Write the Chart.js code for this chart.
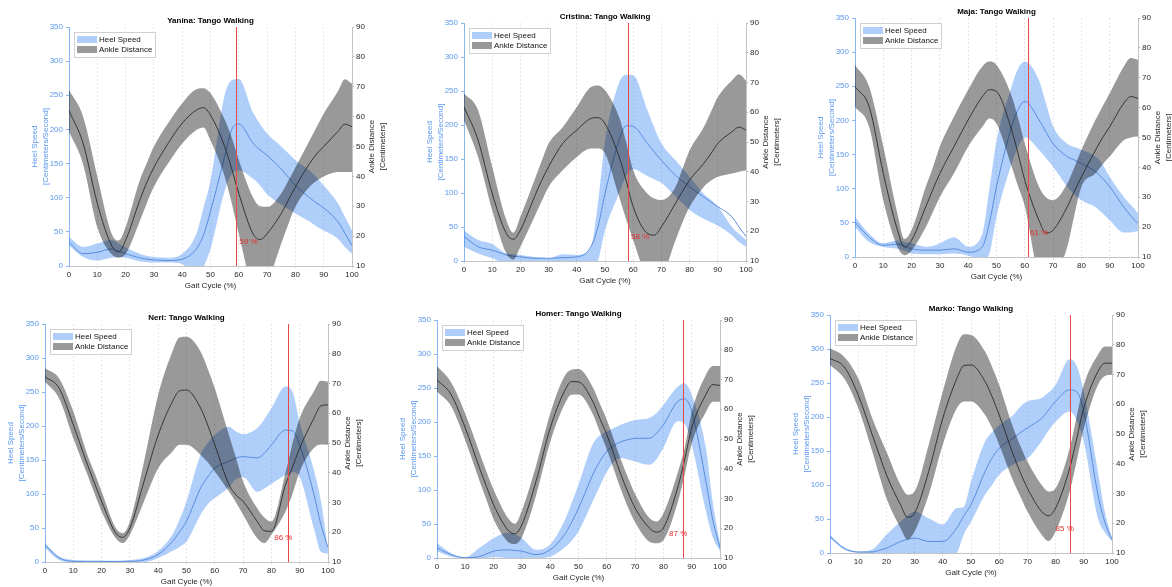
<!DOCTYPE html>
<html lang="en">
<head>
    <meta charset="UTF-8">
    <title>Tango Walking: Heel Speed and Ankle Distance</title>
    <style>
        body {
            margin: 0;
            width: 1172px;
            height: 587px;
            overflow: hidden;
            position: relative;
            background: #fff;
        }
        .panel {
            position: absolute;
        }
    </style>
    <script src="https://cdn.jsdelivr.net/npm/chart.js@4"></script>
</head>
<body>
    <div class="panel" id="p0"><canvas id="c0"></canvas></div>
    <div class="panel" id="p1"><canvas id="c1"></canvas></div>
    <div class="panel" id="p2"><canvas id="c2"></canvas></div>
    <div class="panel" id="p3"><canvas id="c3"></canvas></div>
    <div class="panel" id="p4"><canvas id="c4"></canvas></div>
    <div class="panel" id="p5"><canvas id="c5"></canvas></div>

    <script>
        // gait cycle samples (%)
        const gait = [0, 5, 10, 15, 17.5, 20, 25, 27.5, 30, 35, 40, 45, 47.5, 50, 55, 57.5, 60, 65, 67.5, 70, 75, 77.5, 80, 85, 87.5, 90, 95, 97.5, 100];

        const dancers = ['Yanina', 'Cristina', 'Maja', 'Neri', 'Homer', 'Marko'];
        const events = [59, 58, 61, 86, 87, 85];
        const eventLabelX = [60.2, 59.2, 61.8, 81, 82, 80];

        // Heel speed (cm/s): upper band, mean, lower band
        const yaninaHeelHi = [42, 28, 33, 38, 33, 27, 18, 15, 13, 12, 18, 47, 85, 125, 250, 272, 274, 225, 208, 194, 175, 165, 155, 140, 130, 118, 92, 72, 52];
        const yaninaHeelMean = [35, 18, 20, 25, 22, 18, 12, 10, 9, 8, 10, 25, 45, 80, 160, 200, 208, 180, 170, 162, 142, 130, 118, 100, 92, 85, 65, 48, 30];
        const yaninaHeelLo = [30, 13, 8, 12, 13, 12, 7, 6, 5, 5, 3, -25, -2, 25, 110, 135, 140, 128, 118, 105, 90, 83, 77, 65, 58, 52, 40, 28, 18];

        const cristinaHeelHi = [45, 31, 25, 11, 10, 9, 6, 5, 4, 10, 9, 20, 85, 175, 262, 274, 273, 222, 196, 173, 148, 136, 124, 99, 90, 80, 50, 40, 31];
        const cristinaHeelMean = [36, 21, 16, 9, 7, 6, 4, 4, 4, 5, 6, 21, 50, 99, 178, 199, 198, 173, 160, 148, 126, 117, 109, 94, 87, 80, 65, 50, 36];
        const cristinaHeelLo = [21, 11, 4, -3, -2, 0, 0, 0, 0, 0, -3, -15, 0, 45, 100, 125, 135, 125, 120, 115, 95, 85, 75, 62, 57, 52, 38, 28, 21];

        const majaHeelHi = [59, 34, 20, 24, 22, 20, 15, 16, 20, 29, 15, 34, 100, 170, 245, 275, 286, 259, 225, 191, 166, 161, 157, 147, 135, 117, 88, 76, 64];
        const majaHeelMean = [51, 29, 17, 19, 16, 12, 10, 10, 10, 12, 7, 15, 50, 103, 186, 215, 228, 201, 183, 166, 147, 142, 137, 125, 115, 103, 73, 60, 49];
        const majaHeelLo = [44, 22, 15, 12, 9, 5, 4, 4, 4, 5, 2, -5, 5, 59, 132, 160, 175, 157, 145, 132, 103, 92, 83, 73, 64, 54, 36, 36, 38];

        const neriHeelHi = [28, 8, 3, 2, 2, 2, 2, 2, 3, 6, 16, 40, 62, 89, 158, 175, 187, 199, 192, 188, 197, 210, 226, 258, 250, 205, 135, 90, 18];
        const neriHeelMean = [25, 6, 1, 1, 1, 1, 0.5, 1, 1, 3, 11, 30, 44, 60, 109, 125, 138, 148, 153, 155, 153, 160, 172, 194, 193, 172, 100, 55, 21];
        const neriHeelLo = [21, 3, 0, 0, 0, 0, 0, 0, 0, 0, 6, 16, 22, 30, 70, 85, 94, 110, 122, 125, 103, 108, 115, 128, 132, 125, 50, 15, 12];

        const homerHeelHi = [22, 7, 1, 15, 22, 29, 37, 35, 29, 12, 20, 54, 80, 108, 167, 180, 186, 196, 200, 203, 206, 213, 225, 252, 257, 240, 162, 80, 22];
        const homerHeelMean = [15, 5, 0.5, 2, 6, 10, 12, 11, 10, 5, 12, 34, 52, 73, 122, 142, 157, 171, 174, 176, 176, 183, 196, 230, 234, 216, 113, 55, 15];
        const homerHeelLo = [10, 2, 0, 0, 0, 1, 0, 0, 0, 0, 2, 15, 25, 39, 83, 105, 127, 147, 145, 142, 137, 145, 162, 201, 197, 167, 69, 30, 10];

        const markoHeelHi = [27, 8, 2, 5, 15, 27, 46, 55, 61, 51, 42, 66, 68, 105, 164, 178, 188, 203, 215, 223, 228, 236, 247, 285, 275, 237, 120, 60, 22];
        const markoHeelMean = [24, 7, 1.5, 1.5, 4, 7, 17, 20, 22, 17, 17, 37, 55, 71, 120, 140, 154, 169, 177, 184, 198, 210, 223, 240, 237, 208, 86, 45, 20];
        const markoHeelLo = [22, 5, 0, -1, -3, -5, -10, -12, -15, -15, -15, 0, 28, 46, 86, 100, 115, 130, 135, 139, 164, 180, 193, 208, 195, 164, 51, 30, 17];

        // Ankle distance (cm): upper band, mean, lower band
        const yaninaAnkHi = [69, 60, 40, 21, 18.5, 23, 38.7, 44.5, 50, 57.8, 64.5, 69.2, 69.5, 67.8, 59, 53, 45.5, 33, 30, 29.8, 34.3, 38.5, 43, 52, 56.5, 61, 68.4, 72.5, 71];
        const yaninaAnkMean = [62, 51, 31, 17, 14.7, 18.6, 32, 38, 43, 51, 57.8, 62.2, 63, 60.5, 50, 42.5, 34.3, 20.8, 18.8, 20.8, 27.6, 32, 36.5, 44.3, 47.5, 50, 55, 57.5, 56.6];
        const yaninaAnkLo = [55, 44, 23, 14, 12.8, 14, 25, 31, 36.5, 44.3, 51, 55.5, 56.4, 52, 40, 31, 20.8, 2, 0, 4, 17.5, 24, 29.8, 36.5, 38.5, 40, 41.5, 41.5, 41.5];

        const cristinaAnkHi = [66.3, 60.7, 41.7, 23.8, 19.5, 24.9, 37.2, 43.5, 49.5, 55, 61.8, 68.5, 69, 67.4, 58.4, 50, 40.5, 32.7, 31, 30.5, 34.9, 41, 47.2, 55, 60, 65.1, 70.7, 72.8, 70.7];
        const cristinaAnkMean = [61.8, 50.6, 32.7, 19.3, 17.3, 20.4, 31.6, 37, 41.7, 49.5, 54, 57.9, 58.2, 56.2, 45, 37, 28.2, 19.3, 18.7, 21.5, 29.4, 33.5, 37.2, 42.8, 46, 49.5, 53.4, 55, 54];
        const cristinaAnkLo = [57.3, 45, 27.1, 12.6, 10.5, 14.8, 24.9, 30, 34.9, 40.5, 45, 47.8, 47.8, 46.1, 31.6, 24, 17, 4, 2, 4, 17, 23, 28.2, 34.9, 37, 38.3, 39.4, 40, 40.5];

        const majaAnkHi = [74.3, 67, 47, 24.5, 16, 19, 33.5, 40, 47, 57, 66, 73.8, 75.4, 74.3, 64.8, 57, 48, 33.5, 30, 29, 34.6, 40, 45.8, 55.9, 60.5, 64.8, 73.8, 76.6, 76];
        const majaAnkMean = [67, 60.3, 38, 19, 13.3, 15.6, 26.8, 32.5, 38, 47, 55.9, 63.7, 66, 65.4, 53.6, 45, 35.7, 22.3, 18, 19, 26.8, 32, 36.8, 45.8, 50, 53.6, 61.5, 63.7, 63.1];
        const majaAnkLo = [60.3, 53.6, 29, 13.4, 10.6, 12.2, 20, 25, 30.1, 38, 47, 53.6, 56.4, 54.7, 41.3, 34, 27, 3, 0, 2, 13.4, 24, 33.5, 38, 41, 43.6, 49.1, 50, 50.3];

        const neriAnkHi = [75.1, 71.7, 60.6, 46, 40, 33.7, 21.4, 19.7, 23.6, 43.8, 66.2, 80.7, 85.5, 85.7, 80.7, 75, 68.4, 52.7, 45, 37.1, 28.1, 25, 23.6, 40, 50, 58.3, 67.3, 70.9, 70.6];
        const neriAnkMean = [72.3, 68.4, 56.1, 42.7, 36.5, 30.4, 19.7, 18.3, 21.4, 37.1, 52.7, 63.9, 67.5, 67.8, 61.7, 56, 49.4, 36, 32.5, 30.4, 23.6, 20.5, 20.3, 36, 42, 48.3, 58.3, 62.5, 62.8];
        const neriAnkLo = [70.6, 65, 51.6, 39.3, 33, 27, 18, 16.4, 19.2, 30.4, 41.5, 47.1, 49.4, 49.4, 46, 43.5, 40.4, 33.7, 30, 25.9, 18, 16.4, 19.2, 27, 33, 40.4, 48.3, 49.5, 49.4];

        const homerAnkHi = [74.5, 69, 58.5, 45.5, 39, 33, 23.5, 21.5, 26, 41, 58.5, 71, 73.3, 73.5, 67.5, 62, 56.5, 43, 37, 31.5, 23.5, 22.3, 25, 38.5, 47, 59, 71.5, 74.5, 74.5];
        const homerAnkMean = [69.9, 64.9, 53.7, 40.3, 34, 27.9, 19.5, 18.1, 21.2, 35.8, 53.7, 66, 69.3, 69.2, 62.7, 57, 51.5, 38, 32, 26.8, 20.1, 18.7, 20.1, 33.5, 43, 53.7, 64.9, 68.3, 68];
        const homerAnkLo = [66, 61, 49.5, 36, 29.5, 23, 15.5, 14.7, 17, 31, 49, 61.5, 64.9, 65, 58.5, 52.5, 46.5, 33, 27, 22, 15.5, 15, 16, 28.5, 38, 48.5, 59, 62.5, 62.5];

        const markoAnkHi = [78.8, 76, 68.7, 55.3, 49.5, 44.1, 32.9, 29.6, 30.7, 46.4, 64.3, 79.9, 83.5, 83.3, 77.7, 72.5, 66.5, 52, 46, 40.8, 32.9, 30.7, 31.8, 45.2, 56, 66.5, 76.6, 79.4, 79.4];
        const markoAnkMean = [75.4, 72.6, 63.1, 49.7, 43, 36.3, 26.2, 22, 23.4, 37.4, 55.3, 68.7, 73, 73.2, 67.6, 62.5, 56.4, 43, 37, 31.8, 24, 22.5, 25.1, 38.5, 48.5, 58.7, 71, 73.8, 73.8];
        const markoAnkLo = [73.2, 68.7, 58.7, 44.1, 36, 28.5, 18.4, 14.5, 17.3, 29.6, 46.4, 58.7, 60.9, 60.9, 56.4, 52, 46.4, 34.1, 29, 24, 16.2, 14, 17.3, 30.7, 41, 51.9, 66.5, 69.5, 69.9];

        const heelSeries = [
            [yaninaHeelHi, yaninaHeelMean, yaninaHeelLo],
            [cristinaHeelHi, cristinaHeelMean, cristinaHeelLo],
            [majaHeelHi, majaHeelMean, majaHeelLo],
            [neriHeelHi, neriHeelMean, neriHeelLo],
            [homerHeelHi, homerHeelMean, homerHeelLo],
            [markoHeelHi, markoHeelMean, markoHeelLo]
        ];
        const ankleSeries = [
            [yaninaAnkHi, yaninaAnkMean, yaninaAnkLo],
            [cristinaAnkHi, cristinaAnkMean, cristinaAnkLo],
            [majaAnkHi, majaAnkMean, majaAnkLo],
            [neriAnkHi, neriAnkMean, neriAnkLo],
            [homerAnkHi, homerAnkMean, homerAnkLo],
            [markoAnkHi, markoAnkMean, markoAnkLo]
        ];

        // plot area of each panel on the page: left, top, right, bottom
        const plotBoxes = [
            [69, 27, 352, 266],
            [464, 23, 746, 261],
            [855, 18, 1138, 257],
            [45, 324, 328, 562],
            [437, 320, 720, 558],
            [830, 315, 1112, 553]
        ];
        const AXIS_LEFT = 70, AXIS_RIGHT = 50, AXIS_BOTTOM = 34, PAD_TOP = 20;

        const FONT = '"Liberation Sans", Arial, sans-serif';
        const BLUE_TEXT = '#5b97ee';
        const BLUE_BAND = 'rgba(45, 125, 240, 0.38)';
        const GRAY_BAND = 'rgba(0, 0, 0, 0.4)';

        Chart.defaults.font.family = FONT;
        Chart.defaults.font.size = 8;

        function points(values) {
            return gait.map((x, i) => ({ x: x, y: values[i] }));
        }

        const decor = {
            id: 'decor',
            afterDatasetsDraw(chart, args, opts) {
                const { ctx, chartArea: a, scales } = chart;
                const px = Math.round(scales.x.getPixelForValue(opts.event)) + 0.5;
                ctx.save();
                ctx.strokeStyle = '#e8474a';
                ctx.lineWidth = 1;
                ctx.beginPath();
                ctx.moveTo(px, a.top);
                ctx.lineTo(px, a.bottom);
                ctx.stroke();
                ctx.fillStyle = '#e53030';
                ctx.font = '8px ' + FONT;
                ctx.textBaseline = 'middle';
                ctx.textAlign = 'left';
                ctx.fillText(opts.event + ' %', scales.x.getPixelForValue(opts.labelX), scales.yHeel.getPixelForValue(35));
                ctx.restore();
            },
            afterDraw(chart, args, opts) {
                const { ctx, chartArea: a } = chart;
                ctx.save();
                // title
                ctx.fillStyle = '#000';
                ctx.font = 'bold 8px ' + FONT;
                ctx.textAlign = 'center';
                ctx.textBaseline = 'middle';
                ctx.fillText(opts.name + ': Tango Walking', (a.left + a.right) / 2, a.top - 6);

                // right axis title, rotated like the left one
                ctx.font = '8px ' + FONT;
                ctx.fillStyle = '#262626';
                ctx.translate(a.right + 20, (a.top + a.bottom) / 2);
                ctx.rotate(-Math.PI / 2);
                ctx.fillText('Ankle Distance', 0, 0);
                ctx.fillText('[Centimeters]', 0, 10.5);
                ctx.restore();

                // legend
                const bands = chart.data.datasets.filter(d => d.label);
                const bx = a.left + 5, by = a.top + 5;
                ctx.save();
                ctx.fillStyle = '#fff';
                ctx.fillRect(bx, by, 81, 25);
                ctx.strokeStyle = '#d0d0d0';
                ctx.lineWidth = 1;
                ctx.strokeRect(bx + 0.5, by + 0.5, 81, 25);
                ctx.font = '8px ' + FONT;
                ctx.textBaseline = 'middle';
                ctx.textAlign = 'left';
                bands.forEach((d, k) => {
                    const cy = by + 7.5 + k * 10;
                    ctx.fillStyle = '#fff';
                    ctx.fillRect(bx + 3, cy - 3.5, 20, 7);
                    ctx.fillStyle = d.backgroundColor;
                    ctx.fillRect(bx + 3, cy - 3.5, 20, 7);
                    ctx.fillStyle = '#111';
                    ctx.fillText(d.label, bx + 25, cy + 0.5);
                });
                ctx.restore();
            }
        };

        function makePanel(i) {
            const [L, T, R, B] = plotBoxes[i];
            const w = R - L + AXIS_LEFT + AXIS_RIGHT;
            const h = B - T + PAD_TOP + AXIS_BOTTOM;
            const div = document.getElementById('p' + i);
            div.style.left = (L - AXIS_LEFT) + 'px';
            div.style.top = (T - PAD_TOP) + 'px';
            div.style.width = w + 'px';
            div.style.height = h + 'px';
            const canvas = document.getElementById('c' + i);
            canvas.width = w;
            canvas.height = h;

            const [hHi, hMean, hLo] = heelSeries[i];
            const [aHi, aMean, aLo] = ankleSeries[i];
            const line = { pointRadius: 0, cubicInterpolationMode: 'monotone' };

            new Chart(canvas.getContext('2d'), {
                type: 'line',
                data: {
                    datasets: [
                        { ...line, label: 'Heel Speed', data: points(hHi), yAxisID: 'yHeel', borderWidth: 0, backgroundColor: BLUE_BAND, fill: '+1', order: 6 },
                        { ...line, data: points(hLo), yAxisID: 'yHeel', borderWidth: 0, fill: false, order: 5 },
                        { ...line, data: points(hMean), yAxisID: 'yHeel', borderColor: '#4f86d9', borderWidth: 0.9, fill: false, order: 4 },
                        { ...line, label: 'Ankle Distance', data: points(aHi), yAxisID: 'yAnkle', borderWidth: 0, backgroundColor: GRAY_BAND, fill: '+1', order: 3 },
                        { ...line, data: points(aLo), yAxisID: 'yAnkle', borderWidth: 0, fill: false, order: 2 },
                        { ...line, data: points(aMean), yAxisID: 'yAnkle', borderColor: '#2a2a2a', borderWidth: 0.9, fill: false, order: 1 }
                    ]
                },
                options: {
                    responsive: false,
                    animation: false,
                    layout: { padding: { top: PAD_TOP, left: 0, right: 0, bottom: 0 } },
                    plugins: {
                        legend: { display: false },
                        tooltip: { enabled: false },
                        decor: { event: events[i], labelX: eventLabelX[i], name: dancers[i] }
                    },
                    scales: {
                        x: {
                            type: 'linear',
                            min: 0,
                            max: 100,
                            afterFit: s => { s.height = AXIS_BOTTOM; },
                            ticks: { stepSize: 10, color: '#262626', padding: 1, maxRotation: 0, autoSkip: false },
                            grid: { color: '#e6e6e6', tickLength: 3 },
                            border: { color: '#c4c4c4', dash: [2, 2] },
                            title: { display: true, text: 'Gait Cycle (%)', color: '#262626', padding: { top: 0, bottom: 9 } }
                        },
                        yHeel: {
                            position: 'left',
                            min: 0,
                            max: 350,
                            afterFit: s => { s.width = AXIS_LEFT; },
                            ticks: { stepSize: 50, color: BLUE_TEXT, padding: 3, autoSkip: false },
                            grid: { drawOnChartArea: false, color: '#8ab6f2', tickLength: 3 },
                            border: { color: '#8ab6f2' },
                            title: {
                                display: true,
                                text: ['Heel Speed', '[Centimeters/Second]'],
                                color: BLUE_TEXT,
                                font: { size: 8, lineHeight: 1.3 },
                                padding: { top: 31, bottom: 0 }
                            }
                        },
                        yAnkle: {
                            position: 'right',
                            min: 10,
                            max: 90,
                            afterFit: s => { s.width = AXIS_RIGHT; },
                            ticks: { stepSize: 10, color: '#262626', padding: 2, autoSkip: false },
                            grid: { drawOnChartArea: false, color: '#b0b0b0', tickLength: 2 },
                            border: { color: '#c4c4c4' }
                        }
                    }
                },
                plugins: [decor]
            });
        }

        for (let i = 0; i < dancers.length; i++) {
            makePanel(i);
        }
    </script>
</body>
</html>
